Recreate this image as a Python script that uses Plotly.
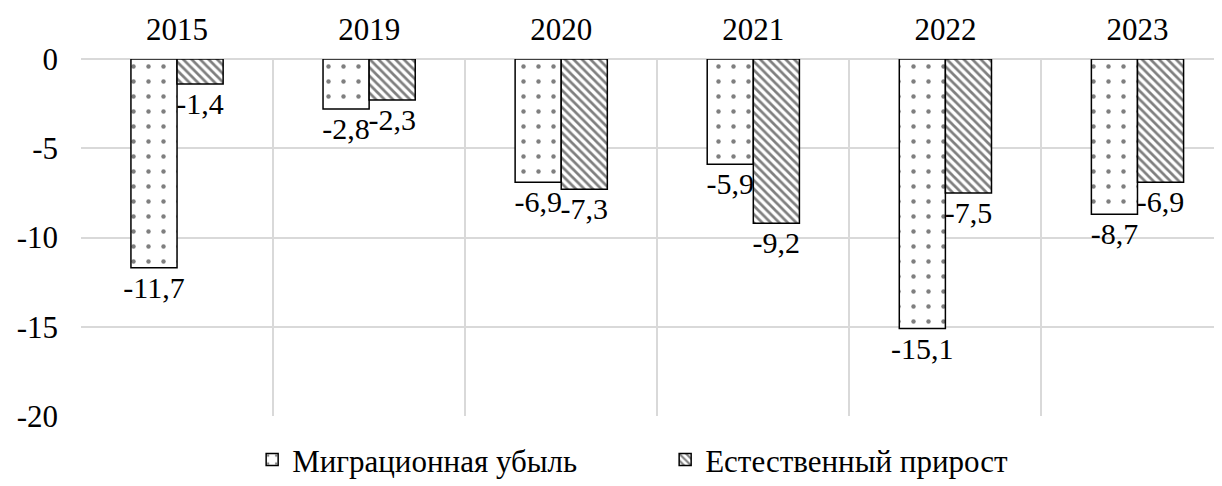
import plotly.graph_objects as go

years = ["2015", "2019", "2020", "2021", "2022", "2023"]
migration = [-11.7, -2.8, -6.9, -5.9, -15.1, -8.7]
natural = [-1.4, -2.3, -7.3, -9.2, -7.5, -6.9]
y_ticks = [0, -5, -10, -15, -20]

def fmt(v):
    return f"{v:.1f}".replace(".", ",")

FONT = "Liberation Serif, Times New Roman, serif"

fig = go.Figure()
fig.add_trace(go.Bar(
    x=years, y=migration, name="Миграционная убыль",
    text=[fmt(v) for v in migration], textposition="outside",
    constraintext="none", cliponaxis=False,
    textfont=dict(family=FONT, size=30, color="black"),
    marker=dict(color="white", line=dict(color="black", width=1.5),
                pattern=dict(shape=".", fgcolor="black", bgcolor="white",
                             size=15, solidity=0.07)),
))
fig.add_trace(go.Bar(
    x=years, y=natural, name="Естественный прирост",
    text=[fmt(v) for v in natural], textposition="outside",
    constraintext="none", cliponaxis=False,
    textfont=dict(family=FONT, size=30, color="black"),
    marker=dict(color="white", line=dict(color="black", width=1.5),
                pattern=dict(shape="\\", fgcolor="black", bgcolor="white",
                             size=6, solidity=0.45)),
))

# page body has an 8px margin, so the figure is a bit smaller
fig.update_layout(
    width=1214, height=478,
    margin=dict(l=73, r=0, t=51, b=70, autoexpand=False),
    paper_bgcolor="white", plot_bgcolor="white",
    barmode="group", bargap=0.52, bargroupgap=0,
    font=dict(family=FONT, size=30, color="black"),
    showlegend=True,
    legend=dict(orientation="h", x=0.15, xanchor="left", y=-0.123, yanchor="middle",
                font=dict(family=FONT, size=31, color="black"),
                entrywidth=368, itemwidth=30, traceorder="normal"),
    xaxis=dict(type="category", side="top", range=[-0.5, 5.44],
               tickson="boundaries", showgrid=True, gridcolor="#d9d9d9", gridwidth=1.5,
               ticks="", showline=False, zeroline=False, automargin=False,
               ticklabelstandoff=12,
               tickfont=dict(family=FONT, size=31, color="black")),
    yaxis=dict(range=[-20, 0], tickvals=y_ticks, ticktext=[str(v) for v in y_ticks],
               showgrid=True, gridcolor="#d9d9d9", gridwidth=1.5,
               zeroline=True, zerolinecolor="#d9d9d9", zerolinewidth=1.5,
               ticks="", showline=False, automargin=False, ticklabelstandoff=22,
               tickfont=dict(family=FONT, size=31, color="black")),
)

fig.write_html("out.html")
